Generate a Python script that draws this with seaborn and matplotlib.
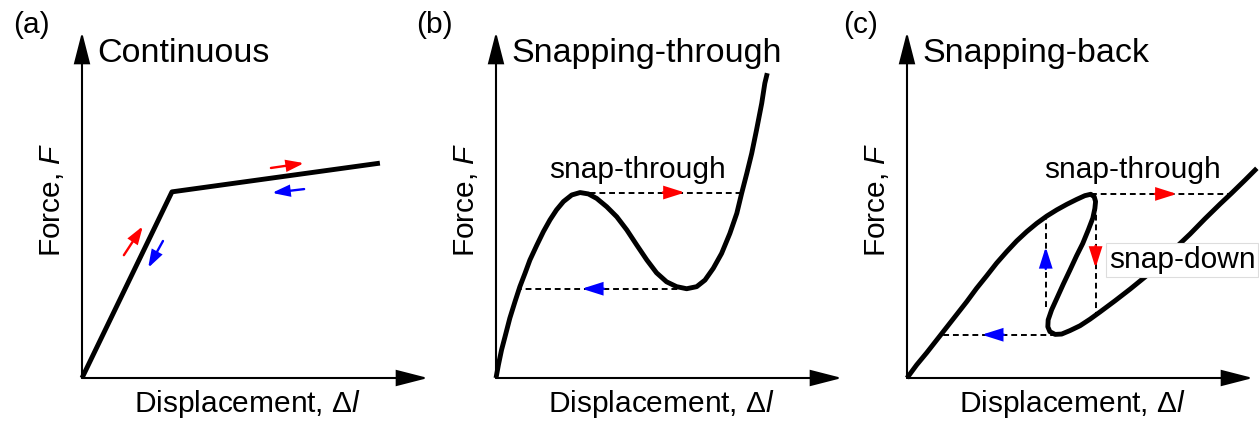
import matplotlib
matplotlib.use("Agg")
import matplotlib.pyplot as plt
from matplotlib.patches import FancyArrowPatch
import seaborn as sns
import pandas as pd

# ---------------------------------------------------------------------------
# Data (arbitrary units: displacement and force both span 0..10 on each axis)
# ---------------------------------------------------------------------------
panel_tags = ["(a)", "(b)", "(c)"]
panel_titles = ["Continuous", "Snapping-through", "Snapping-back"]

# (a) continuous, bilinear response
disp_a = [0.00, 2.60, 8.61]
force_a = [0.00, 5.38, 6.21]
# direction hints next to each branch: (tail, tip)
load_a = [((1.21, 3.55), (1.76, 4.39)), ((5.46, 6.07), (6.42, 6.21))]
unload_a = [((2.34, 3.96), (1.91, 3.18)), ((6.42, 5.46), (5.49, 5.35))]

# (b) snap-through: non-monotonic force-displacement curve
disp_b = [0.00, 0.07, 0.16, 0.26, 0.40, 0.55, 0.69, 0.84, 0.98, 1.18, 1.37,
          1.56, 1.75, 1.95, 2.19, 2.43, 2.67, 2.91, 3.20, 3.49, 3.78, 4.07,
          4.36, 4.64, 4.93, 5.22, 5.51, 5.80, 6.04, 6.28, 6.52, 6.76, 6.96,
          7.10, 7.25, 7.39, 7.53, 7.68, 7.77, 7.84]
force_b = [0.00, 0.38, 0.81, 1.19, 1.73, 2.21, 2.64, 3.03, 3.41, 3.84, 4.23,
           4.57, 4.86, 5.10, 5.29, 5.36, 5.32, 5.19, 4.95, 4.66, 4.28, 3.84,
           3.41, 3.04, 2.78, 2.64, 2.58, 2.64, 2.83, 3.17, 3.60, 4.18, 4.76,
           5.34, 5.92, 6.49, 7.17, 7.94, 8.52, 8.81]
# jumps at the limit points: force level, start and end displacement, arrow tip
jump_b_force = [5.36, 2.58]
jump_b_from = [2.43, 5.51]
jump_b_to = [7.10, 0.66]
jump_b_tip = [5.46, 2.48]

# (c) snap-back: curve folds back on itself (ordered along the path)
disp_c = [0.00, 0.28, 0.57, 0.86, 1.15, 1.44, 1.73, 2.01, 2.30, 2.59, 2.88,
          3.17, 3.46, 3.75, 4.04, 4.33, 4.62, 4.90, 5.14, 5.31, 5.41, 5.45,
          5.43, 5.37, 5.24, 5.08, 4.90, 4.71, 4.52, 4.33, 4.18, 4.08, 4.07,
          4.13, 4.28, 4.47, 4.71, 5.00, 5.29, 5.58, 6.01, 6.45, 6.88, 7.31,
          7.79, 8.18, 8.61, 9.05, 9.38, 9.77, 10.11]
force_c = [0.00, 0.38, 0.73, 1.10, 1.47, 1.84, 2.21, 2.59, 2.95, 3.32, 3.65,
           3.96, 4.23, 4.47, 4.68, 4.86, 5.02, 5.16, 5.27, 5.31, 5.24, 5.10,
           4.90, 4.62, 4.28, 3.89, 3.53, 3.12, 2.72, 2.30, 1.97, 1.68, 1.48,
           1.34, 1.26, 1.27, 1.37, 1.51, 1.70, 1.91, 2.23, 2.57, 2.92, 3.29,
           3.79, 4.16, 4.60, 5.03, 5.34, 5.72, 6.06]
# horizontal jumps (force, from, to, arrow tip)
hjump_c_force = [5.32, 1.25]
hjump_c_from = [5.31, 4.30]
hjump_c_to = [9.37, 0.98]
hjump_c_tip = [7.80, 2.16]
# vertical jumps (displacement, from, to, arrow tip)
vjump_c_disp = [5.45, 4.01]
vjump_c_from = [5.00, 2.05]
vjump_c_to = [1.85, 4.66]
vjump_c_tip = [3.18, 3.79]
jump_c_colors = ["#ff0000", "#0000ff"]

# ---------------------------------------------------------------------------
# Style
# ---------------------------------------------------------------------------
sns.set_theme(style="white")
plt.rcParams["font.family"] = ["Liberation Sans", "DejaVu Sans"]
plt.rcParams["text.color"] = "black"
plt.rcParams["mathtext.fontset"] = "custom"
plt.rcParams["mathtext.it"] = "Liberation Sans:italic"
plt.rcParams["mathtext.rm"] = "Liberation Sans"

RED, BLUE = "#ff0000", "#0000ff"
TITLE_FS, LABEL_FS = 24.5, 21.5
CURVE_LW = 3.5
DASH = dict(color="black", lw=1.4, ls=(0, (3, 2)), zorder=1)

W_PX, H_PX = 1259, 422
AX_PX = 346
ORIGIN_Y = 378
origins_x = [82, 496, 907]
tag_x = [13, 416, 843]

fig = plt.figure(figsize=(W_PX / 100, H_PX / 100), dpi=100)
fig.patch.set_facecolor("white")
axes = [fig.add_axes([ox / W_PX, (H_PX - ORIGIN_Y) / H_PX, AX_PX / W_PX, AX_PX / H_PX])
        for ox in origins_x]


def axis_arrows(ax):
    for end in [(1, 0), (0, 1)]:
        ax.add_patch(FancyArrowPatch((0, 0), end, transform=ax.transAxes,
                                     arrowstyle="-|>,head_length=19.5,head_width=5",
                                     mutation_scale=1, color="black", lw=1.5,
                                     shrinkA=0, shrinkB=0, clip_on=False,
                                     joinstyle="miter", zorder=2))


def hint_arrow(ax, tail, tip, color, head_length=12, head_width=3.8):
    ax.add_patch(FancyArrowPatch(tail, tip, arrowstyle=f"-|>,head_length={head_length},head_width={head_width}",
                                 mutation_scale=1, color=color, lw=1.7, shrinkA=0, shrinkB=0,
                                 clip_on=False, joinstyle="miter", zorder=4))


def curve(ax, x, y):
    df = pd.DataFrame({"Displacement": x, "Force": y})
    sns.lineplot(data=df, x="Displacement", y="Force", ax=ax, sort=False, estimator=None,
                 color="black", lw=CURVE_LW, solid_capstyle="butt", solid_joinstyle="round",
                 clip_on=False, zorder=3)


for ax, tag, title, tx in zip(axes, panel_tags, panel_titles, tag_x):
    ax.set_xlim(0, 10)
    ax.set_ylim(0, 10)
    ax.set_axis_off()
    axis_arrows(ax)
    ax.text(0.044, 0.939, title, transform=ax.transAxes, fontsize=TITLE_FS,
            ha="left", va="center")
    ax.text(-0.087, 0.514, "Force, $F$", transform=ax.transAxes, fontsize=LABEL_FS,
            rotation=90, ha="center", va="center")
    ax.text(0.477, -0.075, "Displacement, Δ$l$", transform=ax.transAxes, fontsize=LABEL_FS,
            ha="center", va="center")
    fig.text(tx / W_PX, 1 - 25 / H_PX, tag, fontsize=LABEL_FS, ha="left", va="center")

# (a)
ax = axes[0]
curve(ax, disp_a, force_a)
for tail, tip in load_a:
    hint_arrow(ax, tail, tip, RED, head_length=10, head_width=3.3)
for tail, tip in unload_a:
    hint_arrow(ax, tail, tip, BLUE, head_length=10, head_width=3.3)

# (b)
ax = axes[1]
for f, x0, x1, xt, col in zip(jump_b_force, jump_b_from, jump_b_to, jump_b_tip, [RED, BLUE]):
    ax.plot([x0, x1], [f, f], **DASH)
    step = 0.64 if x1 > x0 else -0.64
    hint_arrow(ax, (xt - step, f), (xt, f), col)
curve(ax, disp_b, force_b)
ax.text(4.10, 6.01, "snap-through", fontsize=LABEL_FS, ha="center", va="center")

# (c)
ax = axes[2]
for f, x0, x1, xt, col in zip(hjump_c_force, hjump_c_from, hjump_c_to, hjump_c_tip, jump_c_colors):
    ax.plot([x0, x1], [f, f], **DASH)
    step = 0.64 if x1 > x0 else -0.64
    hint_arrow(ax, (xt - step, f), (xt, f), col)
for d, y0, y1, yt, col in zip(vjump_c_disp, vjump_c_from, vjump_c_to, vjump_c_tip, jump_c_colors):
    ax.plot([d, d], [y0, y1], **DASH)
    step = 0.64 if y1 > y0 else -0.64
    hint_arrow(ax, (d, yt - step), (d, yt), col)
curve(ax, disp_c, force_c)
ax.text(6.53, 6.01, "snap-through", fontsize=LABEL_FS, ha="center", va="center")
ax.text(7.95, 3.41, "snap-down", fontsize=LABEL_FS, ha="center", va="center", zorder=5,
        bbox=dict(boxstyle="square,pad=0.1", fc="white", ec="#dddddd", lw=0.8))

for a in axes:
    leg = a.get_legend()
    if leg is not None:
        leg.remove()

fig.savefig("out.png", dpi=100, facecolor="white")
